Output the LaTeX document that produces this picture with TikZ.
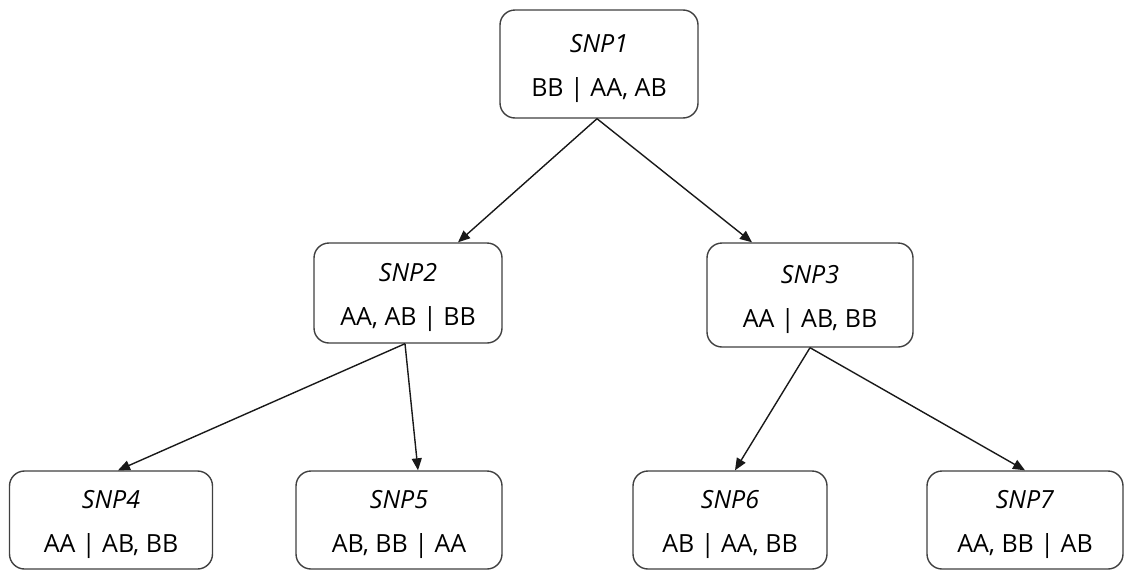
\documentclass[tikz,border=0pt]{standalone}
\usepackage{fontspec}
\setmainfont{Open Sans}
\usetikzlibrary{arrows.meta}
\newcommand{\toprule}{\rule{0pt}{28pt}}
\begin{document}
\begin{tikzpicture}[x=1pt,y=-1pt,
  snpbox/.style={draw=black!75, line width=1.4pt, rounded corners=15pt, fill=white,
    align=center, inner sep=0pt, font=\fontsize{25}{44}\selectfont},
  edge/.style={draw=black!90, line width=1.4pt, -{Triangle[length=12pt,width=10pt]}}]
\useasboundingbox (0,0) rectangle (1125,576);
\node[snpbox, minimum width=198pt, minimum height=108pt] (n1) at (599,64) {\toprule\textit{SNP1}\\BB | AA, AB};
\node[snpbox, minimum width=188pt, minimum height=100pt] (n2) at (408,293) {\toprule\textit{SNP2}\\AA, AB | BB};
\node[snpbox, minimum width=206pt, minimum height=104pt] (n3) at (810,295) {\toprule\textit{SNP3}\\AA | AB, BB};
\node[snpbox, minimum width=203pt, minimum height=98pt] (n4) at (111,520) {\toprule\textit{SNP4}\\AA | AB, BB};
\node[snpbox, minimum width=206pt, minimum height=98pt] (n5) at (399,520) {\toprule\textit{SNP5}\\AB, BB | AA};
\node[snpbox, minimum width=194pt, minimum height=98pt] (n6) at (730,520) {\toprule\textit{SNP6}\\AB | AA, BB};
\node[snpbox, minimum width=196pt, minimum height=98pt] (n7) at (1025,520) {\toprule\textit{SNP7}\\AA, BB | AB};
\draw[edge] ([xshift=-2pt]n1.south) -- ([xshift=50pt]n2.north);
\draw[edge] ([xshift=-2pt]n1.south) -- ([xshift=-58pt]n3.north);
\draw[edge] ([xshift=-3pt]n2.south) -- ([xshift=7pt]n4.north);
\draw[edge] ([xshift=-3pt]n2.south) -- ([xshift=19pt]n5.north);
\draw[edge] (n3.south) -- ([xshift=5pt]n6.north);
\draw[edge] (n3.south) -- (n7.north);
\end{tikzpicture}
\end{document}
